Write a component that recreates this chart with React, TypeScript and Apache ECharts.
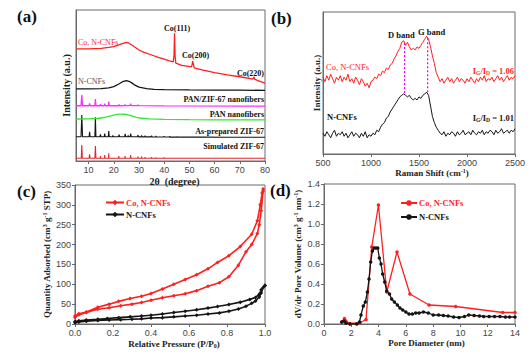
import React, { useEffect, useRef } from "react";
import * as echarts from "echarts";

// ---------- (a) XRD patterns: [2θ, offset intensity] ----------
const xrdTicks = [10, 20, 30, 40, 50, 60, 70, 80];
const xrdCoNCNFs = [[5,74.2],[10,74.3],[15,74.6],[18,75.2],[20,75.8],[22,76.9],[24,78.1],[25,78.6],[26,78.0],[27,77.0],[28,75.8],[30,73.5],[32,71.9],[35,70.2],[38,68.5],[40,67.4],[42,66.3],[43.6,65.6],[43.9,70],[44.1,84.6],[44.3,70],[44.6,64.8],[47,63.4],[50.8,62.3],[51.1,64],[51.3,66.2],[51.6,64],[51.9,61.7],[55,60.3],[60,58.5],[65,57.1],[70,55.8],[75.2,54.2],[75.6,55.6],[76,54],[78,52.8],[80,51.6]];
const xrdNCNFs = [[5,47.8],[10,47.8],[15,47.9],[18,48.4],[20,49.3],[22,51],[23.5,52.5],[25,53.2],[26,52.8],[27,51.9],[28,50.6],[30,48.9],[33,47.9],[36,47.5],[40,47.3],[50,47.1],[60,47],[70,46.9],[80,46.8]];
const xrdPanZif = [[5,36.6],[7.0,36.6],[7.3,43.7],[7.6,36.6],[10.2,36.6],[10.4,38.2],[10.6,36.6],[12.5,36.6],[12.7,41],[12.9,36.6],[14.5,36.6],[14.7,37.7],[14.9,36.6],[16.2,36.6],[16.4,38],[16.6,36.6],[17.8,36.6],[18,39.3],[18.2,36.6],[21.9,36.6],[22.1,37.4],[22.3,36.6],[24.3,36.7],[24.5,37.4],[24.7,36.7],[26.5,36.7],[26.7,38],[26.9,36.7],[29.5,36.7],[29.6,37.2],[29.8,36.7],[40,36.5],[80,36.3]];
const xrdPan = [[5,27.8],[10,27.9],[14,28.3],[16,28.8],[18,29.6],[20,30.4],[22,31],[23.5,31.1],[25,30.8],[27,29.9],[29,28.9],[31,28.3],[34,27.9],[40,27.6],[50,27.4],[60,27.3],[70,27.2],[80,27.2]];
const xrdAsPrepared = [[5,16.1],[7.0,16.1],[7.3,30.5],[7.6,16.1],[10.2,16.1],[10.4,19.4],[10.6,16.1],[12.5,16.1],[12.7,28.9],[12.9,16.1],[14.5,16.1],[14.7,17.7],[14.9,16.1],[16.2,16.1],[16.4,18.1],[16.6,16.1],[17.8,16.1],[18,19.9],[18.2,16.1],[19.5,16.1],[19.6,16.9],[19.8,16.1],[21.9,16.1],[22.1,17.5],[22.3,16.1],[24.3,16.1],[24.5,17.9],[24.7,16.1],[25.5,16.1],[25.7,17],[25.9,16.1],[26.5,16.1],[26.7,18.1],[26.9,16.1],[29.4,16.1],[29.6,17.2],[29.8,16.0],[30.8,16.0],[31,17],[31.2,16],[32.2,16],[32.4,16.8],[32.6,16],[34.8,16],[35,16.7],[35.2,15.9],[36.5,15.9],[36.7,16.5],[36.9,15.9],[39.8,15.9],[40,16.4],[40.2,15.9],[42,15.9],[42.2,16.3],[42.4,15.8],[45,15.8],[45.2,16.2],[45.4,15.8],[55,15.8],[65,15.7],[80,15.7]];
const xrdSimulated = [[5,1.8],[7.1,1.8],[7.3,10.6],[7.5,1.8],[10.2,1.8],[10.4,4.4],[10.6,1.8],[12.5,1.8],[12.7,9.9],[12.9,1.8],[14.6,1.8],[14.7,3.3],[14.8,1.8],[16.3,1.8],[16.4,4],[16.5,1.8],[17.9,1.8],[18,5.1],[18.1,1.8],[21.9,1.8],[22,3.3],[22.1,1.8],[24.4,1.8],[24.5,3.3],[24.6,1.8],[26.6,1.8],[26.7,4],[26.8,1.8],[29.5,1.8],[29.6,3],[29.7,1.8],[30.9,1.8],[31,3],[31.1,1.8],[32.3,1.8],[32.4,2.6],[32.5,1.8],[34.9,1.8],[35,2.5],[35.1,1.8],[36.6,1.8],[36.7,2.4],[36.8,1.8],[39.9,1.8],[40,2.3],[40.1,1.8],[44.1,1.8],[44.2,2.2],[44.3,1.8],[80,1.8]];

// ---------- (b) Raman spectra (500..2500 cm-1, every 20 cm-1) ----------
const ramanStart = 500;
const ramanStep = 20;
const ramanCoNCNFs = [
  57,54,58,55,59,56,53,57,55,58,54,57,55,59,54,56,53,57,55,52,56,54,51,53,50,54,
  55,57,56,59,58,61,60,63,62,65,66,69,71,74,76,80,81,78,80,77,75,76,75,77,76,78,80,82,84,82,77,71,66,60,57,
  54,56,53,55,57,54,56,53,55,57,54,56,55,53,56,54,57,55,53,56,54,57,55,58,54,56,55,57,54,56,58,55,57,54,56,58,55,57,56,58
];
const ramanNCNFs = [
  20,18,21,19,17,20,22,18,20,19,21,18,20,17,19,21,18,20,19,17,20,18,21,17,19,18,
  20,19,22,21,24,26,27,30,31,34,36,38,40,42,44,45,46,45,44,45,43,42,43,42,44,43,45,46,47,45,38,31,27,24,22,
  20,19,21,18,20,19,21,20,18,21,19,20,22,19,20,21,19,22,20,19,21,20,22,19,21,20,22,21,19,22,20,21,23,20,21,22,20,22,21,23
];
const ramanBandD = [[1350, 46.5], [1350, 80]];
const ramanBandG = [[1590, 47], [1590, 83]];

// ---------- (c) N2 isotherms: [P/P0, quantity] ----------
const isoCoAds = [[0,17],[0.02,23],[0.06,29],[0.12,37],[0.18,41],[0.24,46],[0.3,50],[0.35,54],[0.4,60],[0.46,66],[0.52,71],[0.58,76],[0.64,84],[0.7,95],[0.76,104],[0.81,119],[0.86,148],[0.9,182],[0.93,200],[0.96,228],[0.97,250],[0.98,285],[0.99,335]];
const isoCoDes = [[0.99,340],[0.985,330],[0.975,300],[0.96,260],[0.93,226],[0.87,195],[0.81,172],[0.75,155],[0.7,139],[0.64,124],[0.58,112],[0.52,100],[0.46,88],[0.4,77],[0.35,70],[0.29,64],[0.23,57],[0.18,50],[0.12,42],[0.06,30],[0.02,26],[0,20]];
const isoNAds = [[0,3],[0.02,5],[0.06,7],[0.12,9],[0.18,10],[0.24,11],[0.3,12],[0.35,13],[0.4,15],[0.46,16],[0.52,18],[0.58,20],[0.64,22],[0.7,25],[0.76,28],[0.81,32],[0.86,38],[0.9,45],[0.93,52],[0.95,58],[0.97,68],[0.98,78],[0.99,92],[1.0,97]];
const isoNDes = [[1.0,97],[0.98,86],[0.97,75],[0.95,67],[0.92,62],[0.87,55],[0.81,49],[0.75,44],[0.7,40],[0.64,36],[0.58,32],[0.52,29],[0.46,25],[0.4,22],[0.35,20],[0.29,18],[0.23,16],[0.17,14],[0.12,12],[0.06,10],[0.02,8],[0,6]];

// ---------- (d) Pore size distribution: [nm, dV/dr] ----------
const poreCo = [[1.3,0.02],[1.5,0.055],[1.6,0.03],[1.9,0.005],[2.65,0.013],[3.08,0.045],[3.5,0.77],[3.99,1.19],[4.6,0.32],[5.35,0.72],[6.3,0.3],[7.7,0.19],[9.65,0.175],[13.1,0.115],[14,0.115]];
const poreN = [[1.3,0.02],[1.47,0.03],[1.6,0.01],[1.9,0.0],[2.4,0.0],[2.6,0.02],[2.71,0.09],[2.88,0.18],[3.03,0.22],[3.18,0.32],[3.3,0.45],[3.42,0.62],[3.55,0.73],[3.67,0.76],[3.81,0.76],[3.94,0.76],[4.06,0.66],[4.18,0.6],[4.3,0.5],[4.45,0.42],[4.6,0.33],[4.8,0.3],[4.96,0.25],[5.16,0.22],[5.38,0.19],[5.57,0.16],[5.77,0.14],[6.0,0.12],[6.23,0.1],[6.48,0.1],[6.72,0.11],[6.97,0.11],[7.29,0.12],[7.65,0.11],[8.0,0.09],[8.4,0.09],[8.75,0.085],[9.1,0.08],[9.5,0.07],[9.9,0.065],[10.3,0.075],[10.6,0.09],[11.0,0.085],[11.4,0.08],[11.7,0.075],[12.1,0.075],[12.5,0.075],[12.9,0.075],[13.3,0.07],[13.6,0.07],[14,0.07]];

const SERIF = "'Liberation Serif', 'Times New Roman', serif";
const SANS = "'Liberation Sans', Arial, sans-serif";
const RED = "#ff1f1f";
const BLACK = "#151515";
const AXIS = "#6a6a6a";

const supRich = {
  sup: { fontSize: 6, fontFamily: SERIF, fontWeight: "bold", color: "#222", verticalAlign: "top", lineHeight: 10 },
  sub: { fontSize: 6, fontFamily: SERIF, fontWeight: "bold", color: "#222", verticalAlign: "bottom", lineHeight: 10 },
};

function txt(x: number, y: number, text: string, o: any = {}) {
  return {
    type: "text",
    x,
    y,
    z: 100,
    style: {
      text,
      fill: o.fill || "#111",
      fontSize: o.size || 8,
      fontWeight: o.weight || "normal",
      fontFamily: SERIF,
      align: o.align || "left",
      verticalAlign: "middle",
      rich: o.rich,
    },
  };
}

function valueAxis(gridIndex: number, extra: any) {
  return {
    type: "value",
    gridIndex,
    axisLine: { show: true, lineStyle: { color: AXIS, width: 1 } },
    axisTick: { show: true, length: 3, lineStyle: { color: AXIS } },
    axisLabel: { fontFamily: SANS, fontSize: 9, color: "#444", margin: 4 },
    splitLine: { show: false },
    nameLocation: "middle",
    nameTextStyle: { fontFamily: SERIF, fontWeight: "bold", fontSize: 9, color: "#222", rich: supRich },
    ...extra,
  };
}

function ramanPairs(vals: number[]) {
  return vals.map((v, i) => [ramanStart + i * ramanStep, v]);
}

export default function App() {
  const ref = useRef<HTMLDivElement>(null);
  useEffect(() => {
    if (!ref.current) return;
    const chart = echarts.init(ref.current, undefined, { renderer: "svg" });
    const grids = [
      { left: 76, top: 10, width: 189, height: 151 },
      { left: 323, top: 12, width: 192, height: 142 },
      { left: 75, top: 185, width: 190, height: 139 },
      { left: 324, top: 184, width: 191, height: 140 },
    ].map((g) => ({ ...g, show: true, borderColor: AXIS, borderWidth: 1, backgroundColor: "transparent" }));

    const lineA = (name: string, data: number[][], color: string, w = 1.3) => ({
      type: "line", name, xAxisIndex: 0, yAxisIndex: 0, data, symbol: "none",
      lineStyle: { color, width: w }, itemStyle: { color }, silent: true,
    });
    const lineB = (name: string, data: number[][], color: string) => ({
      type: "line", name, xAxisIndex: 1, yAxisIndex: 1, data, symbol: "none",
      lineStyle: { color, width: 1 }, itemStyle: { color }, silent: true,
    });

    const option: any = {
      animation: false,
      backgroundColor: "#ffffff",
      grid: grids,
      xAxis: [
        valueAxis(0, {
          min: 5, max: 80,
          axisLabel: { fontFamily: SANS, fontSize: 9, color: "#444", margin: 4, customValues: xrdTicks },
          axisTick: { show: true, length: 3, lineStyle: { color: AXIS }, customValues: xrdTicks },
          name: "2θ  (degree)", nameGap: 15,
          nameTextStyle: { fontFamily: SERIF, fontWeight: "bold", fontSize: 10, color: "#222", padding: [0, 0, 0, 8] },
        }),
        valueAxis(1, {
          min: 500, max: 2500, interval: 500,
          axisLabel: { fontFamily: SANS, fontSize: 9, color: "#444", margin: 4, formatter: (v: number) => String(v) },
          name: "Raman Shift (cm{sup|-1})", nameGap: 14,
          nameTextStyle: { fontFamily: SERIF, fontWeight: "bold", fontSize: 9, color: "#222", rich: supRich, padding: [0, 0, 0, 26] },
        }),
        valueAxis(2, {
          min: 0, max: 1, interval: 0.2,
          axisLabel: { fontFamily: SANS, fontSize: 9, color: "#444", margin: 4, formatter: (v: number) => v.toFixed(1) },
          name: "Relative Pressure (P/P{sub|0})", nameGap: 15,
          nameTextStyle: { fontFamily: SERIF, fontWeight: "bold", fontSize: 9, color: "#222", rich: supRich, padding: [0, 0, 0, 8] },
        }),
        valueAxis(3, {
          min: 0, max: 14, interval: 2,
          name: "Pore Diameter (nm)", nameGap: 14,
          nameTextStyle: { fontFamily: SERIF, fontWeight: "bold", fontSize: 9, color: "#222", padding: [0, 0, 0, 14] },
        }),
      ],
      yAxis: [
        valueAxis(0, {
          min: 0, max: 100, axisTick: { show: false }, axisLabel: { show: false },
          name: "Intensity (a.u.)", nameGap: 5,
          nameTextStyle: { fontFamily: SERIF, fontWeight: "bold", fontSize: 10, color: "#222" },
        }),
        valueAxis(1, {
          min: 6.3, max: 100, axisTick: { show: false }, axisLabel: { show: false },
          name: "Intensity (a.u.)", nameGap: 2,
          nameTextStyle: { fontFamily: SERIF, fontWeight: "bold", fontSize: 9, color: "#222" },
        }),
        valueAxis(2, {
          min: 0, max: 350, interval: 50,
          name: "Quantity Adsorbed (cm{sup|3} g{sup|-1} STP)", nameGap: 23,
        }),
        valueAxis(3, {
          min: 0, max: 1.4, interval: 0.2,
          axisLabel: { fontFamily: SANS, fontSize: 9, color: "#444", margin: 4, formatter: (v: number) => v.toFixed(1) },
          name: "dV/dr Pore Volume (cm{sup|3} g{sup|-1} nm{sup|-1})", nameGap: 21,
        }),
      ],
      legend: [
        {
          left: 105, top: 198, orient: "vertical", itemWidth: 18, itemHeight: 7, itemGap: 3, padding: 0,
          textStyle: { fontFamily: SERIF, fontWeight: "bold", fontSize: 8.5, color: BLACK, padding: [0, 0, 0, -3] },
          data: [{ name: "Co, N-CNFs", textStyle: { color: RED } }, { name: "N-CNFs" }],
          selectedMode: false,
        },
        {
          left: 400, top: 198.5, orient: "vertical", itemWidth: 16, itemHeight: 7, itemGap: 5, padding: 0,
          textStyle: { fontFamily: SERIF, fontWeight: "bold", fontSize: 8.5, color: BLACK, padding: [0, 0, 0, -3] },
          data: [{ name: "Co, N-CNFs ", textStyle: { color: RED } }, { name: "N-CNFs " }],
          selectedMode: false,
        },
      ],
      series: [
        lineA("a-sim", xrdSimulated, "#e3262b", 1.1),
        lineA("a-asp", xrdAsPrepared, BLACK, 1.1),
        lineA("a-pan", xrdPan, "#2ee82e"),
        lineA("a-panzif", xrdPanZif, "#ff2cff"),
        lineA("a-ncnf", xrdNCNFs, BLACK),
        lineA("a-co", xrdCoNCNFs, RED),
        lineB("b-co", ramanPairs(ramanCoNCNFs), RED),
        lineB("b-n", ramanPairs(ramanNCNFs), BLACK),
        {
          type: "line", name: "b-d", xAxisIndex: 1, yAxisIndex: 1, data: ramanBandD, symbol: "none",
          lineStyle: { color: "#ff00ff", width: 1.3, type: [2, 2] }, silent: true, z: 5,
        },
        {
          type: "line", name: "b-g", xAxisIndex: 1, yAxisIndex: 1, data: ramanBandG, symbol: "none",
          lineStyle: { color: "#ff00ff", width: 1.3, type: [2, 2] }, silent: true, z: 5,
        },
        {
          type: "line", name: "Co, N-CNFs", xAxisIndex: 2, yAxisIndex: 2, data: [...isoCoAds, ...isoCoDes],
          symbol: "diamond", symbolSize: 4, showAllSymbol: true,
          lineStyle: { color: RED, width: 1.6 }, itemStyle: { color: RED },
        },
        {
          type: "line", name: "N-CNFs", xAxisIndex: 2, yAxisIndex: 2, data: [...isoNAds, ...isoNDes],
          symbol: "diamond", symbolSize: 4, showAllSymbol: true,
          lineStyle: { color: BLACK, width: 1.6 }, itemStyle: { color: BLACK },
        },
        {
          type: "line", name: "Co, N-CNFs ", xAxisIndex: 3, yAxisIndex: 3, data: poreCo,
          symbol: "circle", symbolSize: 3.5, showAllSymbol: true,
          lineStyle: { color: RED, width: 1.3 }, itemStyle: { color: RED },
        },
        {
          type: "line", name: "N-CNFs ", xAxisIndex: 3, yAxisIndex: 3, data: poreN,
          symbol: "circle", symbolSize: 3.5, showAllSymbol: true,
          lineStyle: { color: BLACK, width: 1.3 }, itemStyle: { color: BLACK },
        },
      ],
      graphic: [
        txt(17, 16, "(a)", { size: 17, weight: "bold" }),
        txt(271, 18, "(b)", { size: 17, weight: "bold" }),
        txt(17, 191, "(c)", { size: 17, weight: "bold" }),
        txt(270, 190, "(d)", { size: 17, weight: "bold" }),
        // (a) annotations
        txt(78, 42, "Co, N-CNFs", { fill: RED, size: 8 }),
        txt(78, 81, "N-CNFs", { fill: "#555", size: 8 }),
        txt(164, 28, "Co(111)", { size: 8, weight: "bold" }),
        txt(182, 55, "Co(200)", { size: 8, weight: "bold" }),
        txt(264, 73, "Co(220)", { size: 8, weight: "bold", align: "right" }),
        txt(264, 99, "PAN/ZIF-67 nanofibers", { size: 8, weight: "bold", align: "right" }),
        txt(264, 114, "PAN nanofibers", { size: 8, weight: "bold", align: "right" }),
        txt(264, 131, "As-prepared ZIF-67", { size: 8, weight: "bold", align: "right" }),
        txt(264, 146, "Simulated ZIF-67", { size: 8, weight: "bold", align: "right" }),
        // (b) annotations
        txt(388, 35, "D band", { size: 8.5, weight: "bold" }),
        txt(418, 32, "G band", { size: 8.5, weight: "bold" }),
        txt(326, 67, "Co, N-CNFs", { fill: RED, size: 8.5 }),
        txt(327, 117, "N-CNFs", { size: 8.5, weight: "bold" }),
        txt(514, 71, "I{sr|G}/I{sr|D} = 1.06", {
          fill: RED, size: 8.5, weight: "bold", align: "right",
          rich: { sr: { fontSize: 5.5, fontFamily: SERIF, fontWeight: "bold", color: RED, verticalAlign: "bottom", lineHeight: 10 } },
        }),
        txt(514, 118, "I{sb|G}/I{sb|D} = 1.01", {
          fill: BLACK, size: 8.5, weight: "bold", align: "right",
          rich: { sb: { fontSize: 5.5, fontFamily: SERIF, fontWeight: "bold", color: BLACK, verticalAlign: "bottom", lineHeight: 10 } },
        }),
      ],
    };
    chart.setOption(option);
    return () => chart.dispose();
  }, []);
  return (
    <div
      ref={ref}
      style={{ position: "fixed", left: 0, top: 0, width: 530, height: 355, background: "#fff" }}
    />
  );
}
